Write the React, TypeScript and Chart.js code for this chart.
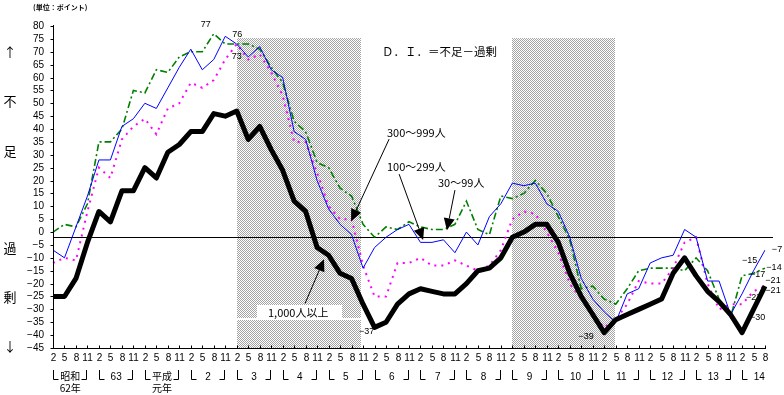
import React, { useEffect, useRef } from "react";
import { Chart, registerables } from "chart.js";

Chart.register(...registerables);

// ---- data ----
const MONTHS: string[] = [];
for (let k = 0; k < 16; k++) {
  for (const m of ["2", "5", "8", "11"]) {
    if (k === 15 && m === "11") continue;
    MONTHS.push(m);
  }
}

const YEAR_LABELS: string[][] = [
  ["昭和", "62年"], ["63"], ["平成", "元年"], ["2"], ["3"], ["4"], ["5"], ["6"],
  ["7"], ["8"], ["9"], ["10"], ["11"], ["12"], ["13"], ["14"],
];

const Y_TICKS = [80, 75, 70, 65, 60, 55, 50, 45, 40, 35, 30, 25, 20, 15, 10, 5, 0, -5, -10, -15, -20, -25, -30, -35, -40, -45];

// 1,000人以上
const K1000 = [
  -25, -25, -18, -4, 8, 4, 16, 16, 25, 21, 31, 34, 39, 39, 46, 45,
  47, 36, 41, 32, 24, 12, 8, -6, -9, -16, -18, -28, -37, -35, -28, -24,
  -22, -23, -24, -24, -20, -15, -14, -10, -2, 0, 3, 3, -4, -16, -25, -32,
  -39, -34, -32, -30, -28, -26, -16, -10, -17, -23, -27, -32, -39, -30, -21,
];
// 300～999人
const K300 = [
  -7, -10, 2, 14, 28, 28, 41, 44, 50, 48, 56, 64, 71, 63, 67, 76,
  73, 68, 72, 63, 60, 39, 36, 20, 9, 3, -1, -14, -6, -2, 1, 3,
  -4, -4, -3, -8, 0, -5, 6, 11, 19, 18, 19, 11, 8, -2, -18, -26,
  -31, -35, -24, -22, -12, -10, -9, 1, -2, -19, -19, -32, -24, -15, -7,
];
// 100～299人
const K100 = [
  -12, -10, -11, 8, 25, 21, 36, 41, 44, 38, 48, 50, 58, 56, 59, 67,
  73, 67, 69, 62, 53, 35, 35, 23, 10, 5, 5, -13, -25, -25, -12, -12,
  -10, -13, -13, -11, -13, -15, -13, -7, 5, 8, 7, 0, -8, -20, -26, -32,
  -37, -34, -28, -19, -20, -20, -14, -4, -2, -20, -30, -28, -28, -23, -21,
];
// 30～99人
const K30 = [
  0, 3, 2, 11, 35, 35, 40, 55, 54, 63, 62, 68, 70, 70, 77, 73,
  73, 73, 71, 64, 58, 43, 39, 27, 25, 17, 14, 3, -2, 2, 1, 4,
  2, 1, 1, 3, 12, 1, -1, 14, 13, 15, 20, 15, 6, -3, -22, -21,
  -26, -28, -22, -15, -14, -14, -14, -15, -10, -15, -26, -33, -17, -16, -14,
];

// recession shading (x index range)
const SHADES: number[][] = [[16, 26.8], [40, 48.9]];
const SHADE_TOP = 75.5;
const LEVEL_LINE = -2.1;

// value labels: [text, series, index, dx, dy]
const VALUE_LABELS: [string, string, number, number, number][] = [
  ["77", "k30", 14, -8, -9],
  ["76", "k300", 15, 12, -2],
  ["73", "k100", 16, 0, 12],
  ["−37", "k1000", 28, -8, 4],
  ["−39", "k1000", 48, -18, 4],
  ["−15", "k300", 61, -4, -10],
  ["−17", "k30", 61, 4, 1],
  ["−23", "k100", 61, 0, 6],
  ["−30", "k1000", 61, 4, 8],
  ["−7", "k300", 62, 12, -1],
  ["−14", "k30", 62, 9, -1],
  ["−21", "k100", 62, 8, -6],
  ["−21", "k1000", 62, 8, 4],
];

const SERIES: Record<string, number[]> = { k1000: K1000, k300: K300, k100: K100, k30: K30 };

const JP = '"Noto Sans CJK JP", sans-serif';
const NUM = '"Liberation Sans", Arial, sans-serif';

function makePattern(ctx: CanvasRenderingContext2D) {
  const c = document.createElement("canvas");
  c.width = 2;
  c.height = 2;
  const g = c.getContext("2d")!;
  g.fillStyle = "#ffffff";
  g.fillRect(0, 0, 2, 2);
  g.fillStyle = "#a4a4a4";
  g.fillRect(0, 0, 1, 1);
  g.fillRect(1, 1, 1, 1);
  return ctx.createPattern(c, "repeat")!;
}

function arrow(ctx: CanvasRenderingContext2D, x1: number, y1: number, x2: number, y2: number) {
  const ang = Math.atan2(y2 - y1, x2 - x1);
  const len = 12;
  const w = 5.5;
  const bx = x2 - len * Math.cos(ang);
  const by = y2 - len * Math.sin(ang);
  ctx.beginPath();
  ctx.moveTo(x1, y1);
  ctx.lineTo(bx, by);
  ctx.strokeStyle = "#000";
  ctx.lineWidth = 1;
  ctx.stroke();
  ctx.beginPath();
  ctx.moveTo(x2, y2);
  ctx.lineTo(bx + w * Math.sin(ang), by - w * Math.cos(ang));
  ctx.lineTo(bx - w * Math.sin(ang), by + w * Math.cos(ang));
  ctx.closePath();
  ctx.fillStyle = "#000";
  ctx.fill();
}

const deco = {
  id: "deco",
  beforeDatasetsDraw(chart: any) {
    const { ctx, scales } = chart;
    const x = scales.x;
    const y = scales.y;
    ctx.save();
    ctx.fillStyle = makePattern(ctx);
    const yt = Math.round(y.getPixelForValue(SHADE_TOP));
    const yb = Math.round(y.getPixelForValue(-45));
    for (const [a, b] of SHADES) {
      const x1 = Math.round(x.getPixelForValue(a));
      const x2 = Math.round(x.getPixelForValue(b));
      ctx.fillRect(x1, yt, x2 - x1, yb - yt);
    }
    // white strip and label box in first shaded period
    ctx.fillStyle = "#ffffff";
    const s1 = Math.round(x.getPixelForValue(SHADES[0][0]));
    const s2 = Math.round(x.getPixelForValue(SHADES[0][1]));
    ctx.fillRect(s1, 318, s2 - s1, 2);
    ctx.fillRect(257, 305, 85, 14);
    // level line
    const ly = Math.round(y.getPixelForValue(LEVEL_LINE)) + 0.5;
    ctx.beginPath();
    ctx.moveTo(x.getPixelForValue(0), ly);
    ctx.lineTo(x.right + 8, ly);
    ctx.strokeStyle = "#000";
    ctx.lineWidth = 1;
    ctx.stroke();
    ctx.restore();
  },
  afterDatasetsDraw(chart: any) {
    const { ctx, scales } = chart;
    const x = scales.x;
    const y = scales.y;
    ctx.save();
    const left = Math.round(x.getPixelForValue(0)) + 0.5;
    const bottom = Math.round(y.getPixelForValue(-45)) + 0.5;
    const top = Math.round(y.getPixelForValue(80));
    const right = Math.round(x.getPixelForValue(MONTHS.length - 1));
    ctx.strokeStyle = "#000";
    ctx.lineWidth = 1;
    ctx.beginPath();
    ctx.moveTo(left, top - 1);
    ctx.lineTo(left, bottom);
    ctx.lineTo(right + 1, bottom);
    ctx.stroke();

    // y ticks + labels
    ctx.fillStyle = "#000";
    ctx.font = `10px ${NUM}`;
    ctx.textAlign = "right";
    ctx.textBaseline = "middle";
    for (const v of Y_TICKS) {
      const py = Math.round(y.getPixelForValue(v)) + 0.5;
      ctx.beginPath();
      ctx.moveTo(left - 3, py);
      ctx.lineTo(left, py);
      ctx.stroke();
      ctx.fillText(v < 0 ? "−" + Math.abs(v) : String(v), 44, py);
    }
    // x ticks + labels
    ctx.textAlign = "center";
    MONTHS.forEach((m, i) => {
      const px = Math.round(x.getPixelForValue(i)) + 0.5;
      ctx.beginPath();
      ctx.moveTo(px, bottom - 3);
      ctx.lineTo(px, bottom);
      ctx.stroke();
      ctx.fillText(m, px, 358);
    });
    // year groups
    YEAR_LABELS.forEach((lab, k) => {
      const s = 4 * k;
      const e = Math.min(4 * k + 3, MONTHS.length - 1);
      const xs = Math.round(x.getPixelForValue(s)) + 0.5;
      const xe = Math.round(x.getPixelForValue(e)) - 0.5;
      ctx.beginPath();
      ctx.moveTo(xs, 370);
      ctx.lineTo(xs, 379.5);
      ctx.lineTo(xs + 5, 379.5);
      ctx.stroke();
      if (e === 4 * k + 3) {
        ctx.beginPath();
        ctx.moveTo(xe, 370);
        ctx.lineTo(xe, 379.5);
        ctx.lineTo(xe - 5, 379.5);
        ctx.stroke();
      }
      const cx = x.getPixelForValue(s + 1.5);
      if (lab.length === 2) {
        ctx.font = `10px ${JP}`;
        ctx.fillText(lab[0], cx, 376);
        ctx.fillText(lab[1], cx, 388);
      } else {
        ctx.font = `10px ${NUM}`;
        ctx.fillText(lab[0], cx, 377);
      }
    });

    // left side words
    ctx.font = `13px ${JP}`;
    ctx.textAlign = "center";
    const side: [string, number][] = [["↑", 52], ["不", 101], ["足", 151], ["過", 248], ["剰", 297], ["↓", 346]];
    for (const [t, py] of side) ctx.fillText(t, 10, py);

    ctx.font = `bold 7px ${JP}`;
    ctx.textAlign = "left";
    ctx.fillText("(単位：ポイント)", 33, 7);

    ctx.font = `11.5px ${JP}`;
    ctx.fillText("Ｄ．Ｉ．＝不足－過剰", 382, 52);

    ctx.font = `11px ${JP}`;
    ctx.fillText("300～999人", 387, 133);
    ctx.fillText("100～299人", 387, 167);
    ctx.fillText("30～99人", 438, 183);
    ctx.fillText("1,000人以上", 268, 313);

    // arrows (anchored to data coordinates)
    const P = (i: number, v: number): [number, number] => [x.getPixelForValue(i), y.getPixelForValue(v)];
    const arrows: [number, number, number, number][] = [
      [21.95, -27.7, 23.6, -10.5],
      [29.27, 36.1, 25.96, 4.2],
      [30.14, 22.5, 32.23, -3.1],
      [35.0, 16.3, 34.3, 0.7],
    ];
    for (const [i1, v1, i2, v2] of arrows) {
      const [ax, ay] = P(i1, v1);
      const [bx, by] = P(i2, v2);
      arrow(ctx, ax, ay, bx, by);
    }

    // value labels
    ctx.font = `9px ${NUM}`;
    ctx.textAlign = "center";
    ctx.fillStyle = "#000";
    for (const [t, s, i, dx, dy] of VALUE_LABELS) {
      const [px, py] = P(i, SERIES[s][i]);
      ctx.fillText(t, px + dx, py + dy);
    }
    ctx.restore();
  },
};

export default function App() {
  const ref = useRef<HTMLCanvasElement | null>(null);
  useEffect(() => {
    if (!ref.current) return;
    const chart = new Chart(ref.current, {
      type: "line",
      data: {
        labels: MONTHS,
        datasets: [
          { label: "1,000人以上", data: K1000, borderColor: "#000000", borderWidth: 5, borderJoinStyle: "round" },
          { label: "300～999人", data: K300, borderColor: "#0000ff", borderWidth: 1 },
          { label: "100～299人", data: K100, borderColor: "#ff00ff", borderWidth: 2, borderDash: [2, 5] },
          { label: "30～99人", data: K30, borderColor: "#008000", borderWidth: 1.6, borderDash: [7, 3, 2, 3] },
        ] as any,
      },
      options: {
        responsive: false,
        animation: false,
        devicePixelRatio: 1,
        layout: { padding: { left: 53, right: 19, top: 26, bottom: 47 } },
        plugins: { legend: { display: false }, tooltip: { enabled: false } },
        elements: { point: { radius: 0 }, line: { tension: 0 } },
        scales: {
          x: { display: false },
          y: { display: false, min: -45, max: 80 },
        },
      },
      plugins: [deco],
    });
    return () => chart.destroy();
  }, []);
  return (
    <canvas
      ref={ref}
      width={784}
      height={395}
      style={{ position: "absolute", left: 0, top: 0, background: "#fff" }}
    />
  );
}
